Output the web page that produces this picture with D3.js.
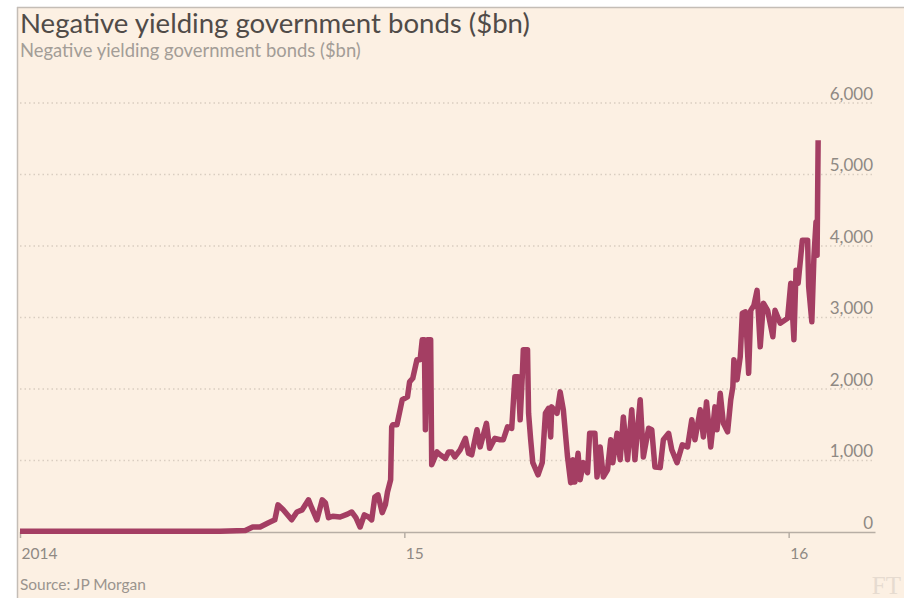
<!DOCTYPE html>
<html>
<head>
<meta charset="utf-8">
<script src="https://cdn.jsdelivr.net/npm/d3@7"></script>
<style>
  html, body { margin: 0; padding: 0; background: #ffffff; }
  svg { display: block; }
</style>
</head>
<body>
<script>
// Negative yielding government bonds, $bn (JP Morgan)
const dates = [
  "2014-01-01","2014-02-08","2014-03-18","2014-04-25","2014-06-02","2014-07-10","2014-08-03",
  "2014-08-10","2014-08-17","2014-08-25","2014-08-31","2014-09-03","2014-09-08","2014-09-12",
  "2014-09-16","2014-09-21","2014-09-26","2014-10-02","2014-10-05","2014-10-10","2014-10-15",
  "2014-10-18","2014-10-21","2014-10-25","2014-11-01","2014-11-08","2014-11-12","2014-11-16",
  "2014-11-20","2014-11-24","2014-11-28","2014-12-01","2014-12-04","2014-12-07","2014-12-11",
  "2014-12-14","2014-12-16","2014-12-19","2014-12-20","2014-12-21","2014-12-25","2014-12-26",
  "2014-12-30","2015-01-04","2015-01-06","2015-01-09","2015-01-13","2015-01-16","2015-01-18",
  "2015-01-20","2015-01-21","2015-01-23","2015-01-26","2015-01-27","2015-01-29","2015-02-01",
  "2015-02-04","2015-02-09","2015-02-12","2015-02-15","2015-02-18","2015-02-23","2015-02-28",
  "2015-03-03","2015-03-06","2015-03-11","2015-03-14","2015-03-20","2015-03-23","2015-03-28",
  "2015-04-02","2015-04-05","2015-04-09","2015-04-13","2015-04-16","2015-04-19","2015-04-21",
  "2015-04-23","2015-04-24","2015-04-28","2015-04-29","2015-05-01","2015-05-03","2015-05-08",
  "2015-05-12","2015-05-15","2015-05-18","2015-05-20","2015-05-21","2015-05-26","2015-05-29",
  "2015-06-01","2015-06-05","2015-06-08","2015-06-10","2015-06-12","2015-06-15","2015-06-17",
  "2015-06-20","2015-06-24","2015-06-26","2015-07-01","2015-07-03","2015-07-06","2015-07-09",
  "2015-07-13","2015-07-16","2015-07-18","2015-07-22","2015-07-25","2015-07-28","2015-08-01",
  "2015-08-05","2015-08-08","2015-08-13","2015-08-16","2015-08-21","2015-08-24","2015-08-27",
  "2015-09-01","2015-09-04","2015-09-09","2015-09-12","2015-09-17","2015-09-22","2015-09-27",
  "2015-10-01","2015-10-04","2015-10-09","2015-10-12","2015-10-15","2015-10-19","2015-10-23",
  "2015-10-25","2015-10-28","2015-10-31","2015-11-04","2015-11-07","2015-11-09","2015-11-10",
  "2015-11-13","2015-11-16","2015-11-18","2015-11-21","2015-11-24","2015-11-26","2015-11-29",
  "2015-12-02","2015-12-05","2015-12-08","2015-12-12","2015-12-17","2015-12-19","2015-12-24",
  "2015-12-31","2016-01-03","2016-01-06","2016-01-08","2016-01-10","2016-01-14","2016-01-19",
  "2016-01-20","2016-01-23","2016-01-25","2016-01-27","2016-01-28","2016-01-29"
];
const values = [
  10,10,10,10,10,10,20,
  70,70,130,170,380,310,240,
  170,280,310,450,340,170,450,
  410,200,220,210,250,280,200,
  70,240,210,170,490,520,270,
  380,560,730,1470,1500,1500,1570,
  1850,1890,2100,2150,2410,2410,2690,
  2690,1430,2690,2690,940,1010,1120,
  1080,1030,1120,1120,1050,1150,1310,
  1100,1080,1430,1190,1520,1170,1310,
  1290,1290,1470,1450,2170,2170,1570,
  2170,2550,2550,1660,1290,970,800,
  970,1660,1730,1330,1750,1660,1960,
  1710,1050,690,1010,700,1100,730,
  970,830,1380,1380,770,1190,770,
  870,1290,970,1380,1010,1610,1010,
  1710,1010,1850,1050,1450,1430,910,
  900,1290,1380,1150,970,1220,1190,
  1570,1290,1710,1330,1820,1190,1750,
  1430,1940,1520,1400,1850,2030,2410,
  2130,2450,3060,3080,2220,3100,3170,
  3380,2590,3200,3100,2730,3100,2920,
  2990,3480,2690,3660,3480,4080,4080,
  3430,2940,3850,4340,3870,5480
];
const yTicks = [0, 1000, 2000, 3000, 4000, 5000, 6000];
const xTickDates = ["2014-01-01", "2015-01-01", "2016-01-01"];
const xTickLabels = ["2014", "15", "16"];

const titleText = "Negative yielding government bonds ($bn)";
const subtitleText = "Negative yielding government bonds ($bn)";
const sourceText = "Source: JP Morgan";

const W = 904, H = 598;
const parse = d3.utcParse("%Y-%m-%d");
const series = dates.map((d, i) => ({ date: parse(d), value: values[i] }));

const svg = d3.select("body").append("svg")
  .attr("width", W).attr("height", H);

// panel
svg.append("rect").attr("x", 0).attr("y", 0).attr("width", W).attr("height", H).attr("fill", "#ffffff");
svg.append("rect").attr("x", 17).attr("y", 7).attr("width", W - 17).attr("height", H - 7).attr("fill", "#fcf0e3");
svg.append("line").attr("x1", 17).attr("x2", W).attr("y1", 7.5).attr("y2", 7.5).attr("stroke", "#c4bdb6").attr("stroke-width", 1.5);
svg.append("line").attr("x1", 17.5).attr("x2", 17.5).attr("y1", 7).attr("y2", H).attr("stroke", "#c4bdb6").attr("stroke-width", 1.5);

const font = "Lato, 'Open Sans', sans-serif";

// scale a text's font size so that it spans a given width
function fitWidth(sel, width) {
  const fs = +sel.attr("font-size");
  const len = sel.node().getComputedTextLength();
  if (len > 0) sel.attr("font-size", (fs * width / len).toFixed(2));
  return sel;
}

const title = svg.append("text").attr("x", 20).attr("y", 33)
  .attr("font-family", font).attr("font-size", 26).attr("fill", "#504b48")
  .text(titleText);
fitWidth(title, 510);
const subtitle = svg.append("text").attr("x", 20).attr("y", 57)
  .attr("font-family", font).attr("font-size", 16).attr("fill", "#a39d97")
  .text(subtitleText);
fitWidth(subtitle, 341);

const x = d3.scaleUtc()
  .domain([parse("2014-01-01"), parse("2016-03-23")])
  .range([20, 875]);
const y = d3.scaleLinear().domain([0, 6000]).range([532, 103]);

// dotted gridlines and value labels
const grid = svg.append("g");
yTicks.filter(v => v > 0).forEach(v => {
  grid.append("line")
    .attr("x1", 20).attr("x2", 873)
    .attr("y1", y(v)).attr("y2", y(v))
    .attr("stroke", "#d9cdc1").attr("stroke-width", 1.5)
    .attr("stroke-dasharray", "1.5,3");
});
const yAxis = d3.axisRight(y).tickValues(yTicks)
  .tickFormat(d3.format(",")).tickSize(0);
const gy = svg.append("g").attr("transform", "translate(873,0)").call(yAxis);
gy.select(".domain").remove();
gy.selectAll("text")
  .attr("x", 0).attr("dy", -4)
  .attr("text-anchor", "end")
  .attr("font-family", font).attr("font-size", 17).attr("fill", "#8f8983");

// time axis
const xAxis = d3.axisBottom(x)
  .tickValues(xTickDates.map(parse))
  .tickFormat((d, i) => xTickLabels[i])
  .tickSize(6).tickSizeOuter(0);
const gx = svg.append("g").attr("transform", "translate(0,532)").call(xAxis);
gx.select(".domain").attr("stroke", "#b7aea5").attr("stroke-width", 1.5);
gx.selectAll(".tick line").attr("stroke", "#b7aea5").attr("stroke-width", 1.5);
gx.selectAll(".tick text")
  .attr("text-anchor", "start").attr("x", 1).attr("y", 27).attr("dy", 0)
  .attr("font-family", font).attr("font-size", 15.5).attr("fill", "#8f8983");

// series line
const line = d3.line()
  .x(d => x(d.date))
  .y(d => y(d.value));
svg.append("path")
  .datum(series)
  .attr("d", line)
  .attr("fill", "none")
  .attr("stroke", "#a43e63")
  .attr("stroke-width", 5.5)
  .attr("stroke-linejoin", "round")
  .attr("stroke-linecap", "butt");

const source = svg.append("text").attr("x", 20).attr("y", 590)
  .attr("font-family", font).attr("font-size", 12.5).attr("fill", "#9a948e")
  .text(sourceText);
fitWidth(source, 126);

// FT mark, bottom right
svg.append("text").attr("x", 901).attr("y", 594)
  .attr("text-anchor", "end")
  .attr("font-family", "'Liberation Serif', 'DejaVu Serif', serif")
  .attr("font-size", 25).attr("fill", "#e6dbd0")
  .text("FT");
</script>
</body>
</html>
